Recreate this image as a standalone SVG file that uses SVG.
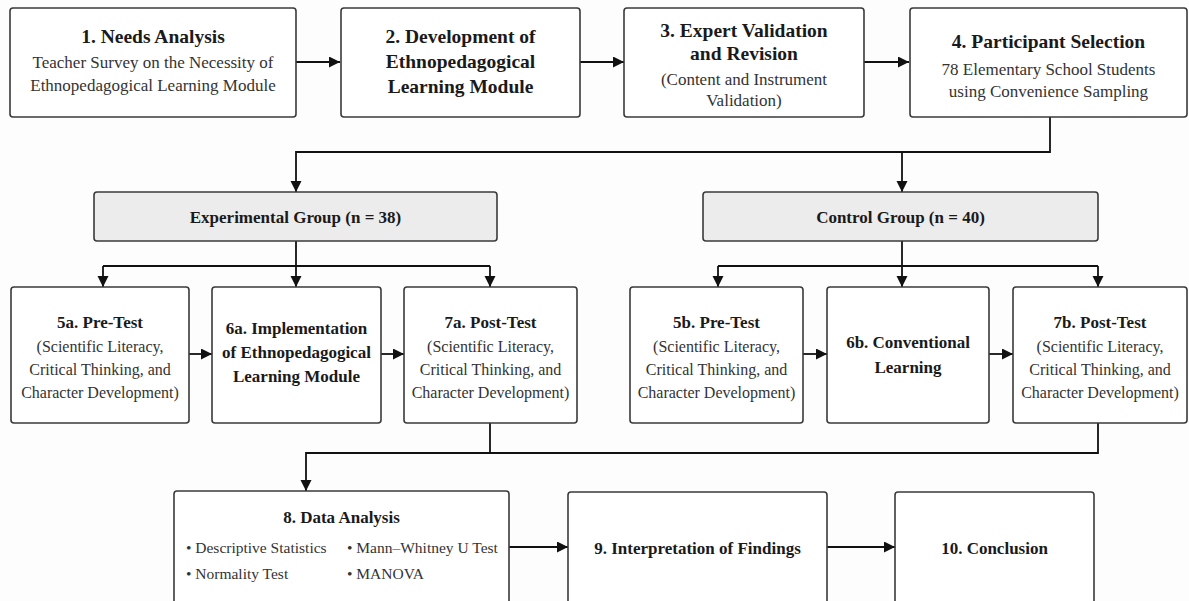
<svg xmlns="http://www.w3.org/2000/svg" width="1189" height="601" viewBox="0 0 1189 601">
<style>
.box{fill:#ffffff;stroke:#3a3a3a;stroke-width:1.6}
.grp{fill:#ececec;stroke:#3a3a3a;stroke-width:1.6}
text{font-family:"Liberation Serif","Times New Roman",serif;text-anchor:middle;fill:#222}
.t1{font-size:19.5px;font-weight:bold;fill:#1a1a1a}
.b1{font-size:17px;fill:#333}
.t2{font-size:17px;font-weight:bold;fill:#1a1a1a}
.b2{font-size:16px;fill:#333}
.bl{font-size:15.5px;fill:#333;text-anchor:start}
.c{fill:none;stroke:#111;stroke-width:1.8}
.a{marker-end:url(#ah)}
</style>
<defs>
<marker id="ah" markerUnits="userSpaceOnUse" markerWidth="12" markerHeight="12" refX="11" refY="5.5" orient="auto">
<path d="M0,0 L11,5.5 L0,11 z" fill="#111"/>
</marker>
</defs>
<rect x="0" y="0" width="1189" height="601" fill="#fdfdfd"/>

<g id="connectors">
<path class="c a" d="M296,62 H340"/>
<path class="c a" d="M580,62 H624"/>
<path class="c a" d="M864,62 H909"/>
<path class="c a" d="M1050,117 V152 H296 V192"/>
<path class="c a" d="M902,152 V192"/>
<path class="c a" d="M296,241 V287"/>
<path class="c" d="M103,266 H490"/>
<path class="c a" d="M103,266 V287"/>
<path class="c a" d="M490,266 V287"/>
<path class="c a" d="M902,241 V287"/>
<path class="c" d="M718,266 H1098"/>
<path class="c a" d="M718,266 V287"/>
<path class="c a" d="M1098,266 V287"/>
<path class="c a" d="M189,354 H212"/>
<path class="c a" d="M381,354 H404"/>
<path class="c a" d="M803,354 H827"/>
<path class="c a" d="M989,354 H1013"/>
<path class="c" d="M490,423 V453"/>
<path class="c a" d="M1098,423 V453 H306 V491"/>
<path class="c a" d="M509,547 H568"/>
<path class="c a" d="M827,547 H895"/>
</g>

<g id="n1">
<rect class="box" x="10" y="8" width="286" height="109" rx="3"/>
<text class="t1" x="153" y="43">1. Needs Analysis</text>
<text class="b1" x="153" y="68">Teacher Survey on the Necessity of</text>
<text class="b1" x="153" y="91">Ethnopedagogical Learning Module</text>
</g>
<g id="n2">
<rect class="box" x="341" y="8" width="239" height="109" rx="3"/>
<text class="t1" x="460.5" y="43">2. Development of</text>
<text class="t1" x="460.5" y="68">Ethnopedagogical</text>
<text class="t1" x="460.5" y="93">Learning Module</text>
</g>
<g id="n3">
<rect class="box" x="624" y="8" width="240" height="109" rx="3"/>
<text class="t1" x="744" y="37">3. Expert Validation</text>
<text class="t1" x="744" y="60">and Revision</text>
<text class="b1" x="744" y="85">(Content and Instrument</text>
<text class="b1" x="744" y="106">Validation)</text>
</g>
<g id="n4">
<rect class="box" x="910" y="8" width="277" height="109" rx="3"/>
<text class="t1" x="1048.5" y="48">4. Participant Selection</text>
<text class="b1" x="1048.5" y="75">78 Elementary School Students</text>
<text class="b1" x="1048.5" y="97">using Convenience Sampling</text>
</g>

<g id="exp">
<rect class="grp" x="94" y="192" width="403" height="49" rx="3"/>
<text class="t2" x="295.5" y="223">Experimental Group (n = 38)</text>
</g>
<g id="ctrl">
<rect class="grp" x="703" y="192" width="395" height="49" rx="3"/>
<text class="t2" x="900.5" y="223">Control Group (n = 40)</text>
</g>

<g id="n5a">
<rect class="box" x="11" y="287" width="178" height="136" rx="3"/>
<text class="t2" x="100" y="328">5a. Pre-Test</text>
<text class="b2" x="100" y="352">(Scientific Literacy,</text>
<text class="b2" x="100" y="375">Critical Thinking, and</text>
<text class="b2" x="100" y="398">Character Development)</text>
</g>
<g id="n6a">
<rect class="box" x="212" y="287" width="169" height="136" rx="3"/>
<text class="t2" x="296.5" y="334">6a. Implementation</text>
<text class="t2" x="296.5" y="358">of Ethnopedagogical</text>
<text class="t2" x="296.5" y="382">Learning Module</text>
</g>
<g id="n7a">
<rect class="box" x="404" y="287" width="173" height="136" rx="3"/>
<text class="t2" x="490.5" y="328">7a. Post-Test</text>
<text class="b2" x="490.5" y="352">(Scientific Literacy,</text>
<text class="b2" x="490.5" y="375">Critical Thinking, and</text>
<text class="b2" x="490.5" y="398">Character Development)</text>
</g>
<g id="n5b">
<rect class="box" x="630" y="287" width="173" height="136" rx="3"/>
<text class="t2" x="716.5" y="328">5b. Pre-Test</text>
<text class="b2" x="716.5" y="352">(Scientific Literacy,</text>
<text class="b2" x="716.5" y="375">Critical Thinking, and</text>
<text class="b2" x="716.5" y="398">Character Development)</text>
</g>
<g id="n6b">
<rect class="box" x="827" y="287" width="162" height="136" rx="3"/>
<text class="t2" x="908" y="348">6b. Conventional</text>
<text class="t2" x="908" y="373">Learning</text>
</g>
<g id="n7b">
<rect class="box" x="1013" y="287" width="174" height="136" rx="3"/>
<text class="t2" x="1100" y="328">7b. Post-Test</text>
<text class="b2" x="1100" y="352">(Scientific Literacy,</text>
<text class="b2" x="1100" y="375">Critical Thinking, and</text>
<text class="b2" x="1100" y="398">Character Development)</text>
</g>

<g id="n8">
<rect class="box" x="174" y="491" width="335" height="125" rx="3"/>
<text class="t2" x="341.5" y="523">8. Data Analysis</text>
<text class="bl" x="186" y="553">• Descriptive Statistics</text>
<text class="bl" x="186" y="579">• Normality Test</text>
<text class="bl" x="347" y="553">• Mann–Whitney U Test</text>
<text class="bl" x="347" y="579">• MANOVA</text>
</g>
<g id="n9">
<rect class="box" x="568" y="492" width="259" height="124" rx="3"/>
<text class="t2" x="697.5" y="554">9. Interpretation of Findings</text>
</g>
<g id="n10">
<rect class="box" x="895" y="492" width="199" height="124" rx="3"/>
<text class="t2" x="994.5" y="554">10. Conclusion</text>
</g>
</svg>
